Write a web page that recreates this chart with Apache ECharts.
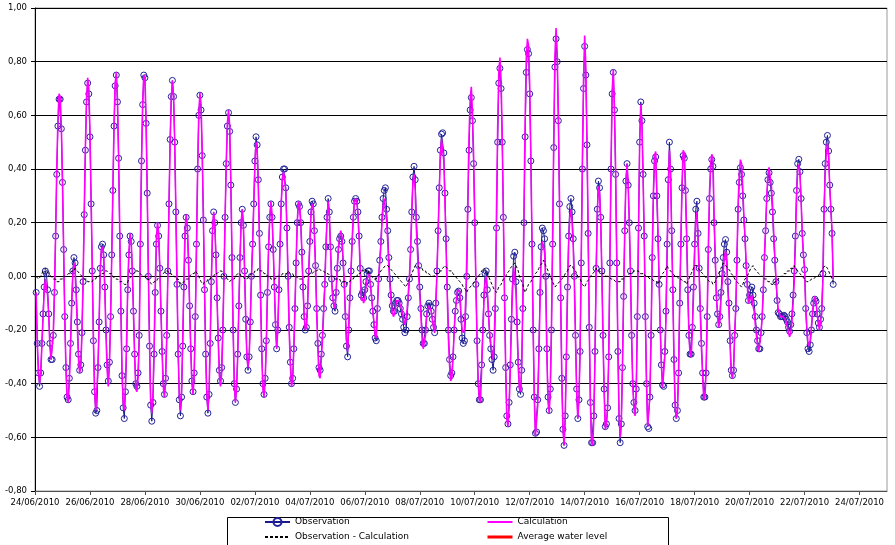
<!DOCTYPE html>
<html>
<head>
<meta charset="utf-8">
<script src="https://cdn.jsdelivr.net/npm/echarts@6/dist/echarts.min.js"></script>
<style>
html,body{margin:0;padding:0;background:#fff;}
#chart{width:895px;height:545px;}
</style>
</head>
<body>
<div id="chart"></div>
<script>
// ---- DATA ----
// hourly observations, first value at 24/06/2010 01:00 (hour 1)
const obsStartHour = 1;
const observation = [
-0.06,-0.25,-0.36,-0.41,-0.36,-0.25,-0.14,-0.04,0.02,0.01,-0.05,-0.14,
-0.25,-0.31,-0.31,-0.22,-0.06,0.15,0.38,0.56,0.66,0.66,0.55,0.35,
0.10,-0.15,-0.34,-0.45,-0.46,-0.38,-0.25,-0.10,0.02,0.07,0.05,-0.05,
-0.17,-0.29,-0.35,-0.33,-0.21,-0.02,0.23,0.47,0.65,0.72,0.68,0.52,
0.27,0.02,-0.24,-0.43,-0.51,-0.50,-0.34,-0.17,0.03,0.11,0.12,0.08,
-0.04,-0.20,-0.33,-0.39,-0.32,-0.15,0.08,0.32,0.56,0.71,0.75,0.65,
0.44,0.15,-0.13,-0.37,-0.49,-0.53,-0.43,-0.27,-0.05,0.08,0.15,0.13,
0.02,-0.13,-0.29,-0.40,-0.41,-0.36,-0.22,0.12,0.43,0.64,0.75,0.74,
0.57,0.31,0.00,-0.26,-0.48,-0.54,-0.47,-0.29,-0.06,0.12,0.19,0.15,
0.03,-0.13,-0.28,-0.40,-0.44,-0.38,-0.22,0.02,0.27,0.51,0.67,0.73,
0.67,0.50,0.24,-0.03,-0.29,-0.46,-0.52,-0.45,-0.26,-0.04,0.15,0.22,
0.18,0.06,-0.11,-0.27,-0.39,-0.43,-0.36,-0.15,0.12,0.40,0.60,0.675,
0.62,0.45,0.21,-0.05,-0.29,-0.45,-0.51,-0.44,-0.25,-0.02,0.17,0.24,
0.20,0.08,-0.08,-0.23,-0.35,-0.39,-0.34,-0.20,0.00,0.22,0.42,0.56,
0.61,0.54,0.34,0.07,-0.20,-0.40,-0.47,-0.42,-0.29,-0.11,0.07,0.20,
0.25,0.19,0.02,-0.16,-0.30,-0.35,-0.30,-0.17,0.00,0.12,0.27,0.43,
0.52,0.49,0.36,0.16,-0.07,-0.27,-0.40,-0.44,-0.38,-0.24,-0.06,0.11,
0.22,0.27,0.22,0.10,-0.04,-0.18,-0.27,-0.20,-0.05,0.12,0.27,0.37,
0.40,0.40,0.33,0.18,0.00,-0.19,-0.32,-0.40,-0.38,-0.27,-0.12,0.05,
0.20,0.27,0.26,0.20,0.09,-0.04,-0.15,-0.20,-0.19,-0.11,0.02,0.13,
0.24,0.28,0.27,0.17,0.04,-0.12,-0.25,-0.34,-0.35,-0.29,-0.22,-0.12,
-0.03,0.11,0.22,0.29,0.24,0.11,-0.01,-0.08,-0.11,-0.13,-0.06,0.03,
0.10,0.14,0.15,0.13,0.05,-0.03,-0.15,-0.26,-0.30,-0.20,-0.08,0.02,
0.13,0.22,0.28,0.29,0.28,0.24,0.15,0.03,-0.07,-0.06,-0.08,-0.05,
-0.02,0.01,0.02,0.02,-0.03,-0.08,-0.13,-0.18,-0.23,-0.24,-0.12,-0.01,
0.06,0.13,0.22,0.29,0.32,0.33,0.25,0.17,0.07,-0.01,-0.07,-0.11,
-0.13,-0.13,-0.10,-0.09,-0.09,-0.10,-0.12,-0.14,-0.16,-0.19,-0.21,-0.20,
-0.15,-0.08,-0.01,0.10,0.24,0.37,0.41,0.36,0.22,0.13,0.04,-0.04,
-0.12,-0.20,-0.25,-0.25,-0.20,-0.14,-0.11,-0.10,-0.11,-0.13,-0.16,-0.19,
-0.21,-0.10,0.02,0.17,0.33,0.47,0.53,0.535,0.46,0.31,0.14,-0.04,
-0.20,-0.31,-0.37,-0.36,-0.30,-0.20,-0.13,-0.09,-0.06,-0.055,-0.08,-0.16,
-0.23,-0.25,-0.24,-0.15,0.00,0.25,0.47,0.62,0.666,0.58,0.42,0.20,
-0.03,-0.24,-0.40,-0.46,-0.46,-0.33,-0.20,-0.07,0.01,0.02,-0.05,-0.14,
-0.22,-0.27,-0.31,-0.35,-0.30,-0.12,0.18,0.50,0.72,0.775,0.70,0.50,
0.22,-0.08,-0.34,-0.52,-0.55,-0.47,-0.33,-0.16,-0.01,0.075,0.09,-0.02,
-0.17,-0.32,-0.42,-0.44,-0.35,-0.12,0.20,0.52,0.76,0.845,0.83,0.68,
0.43,0.12,-0.20,-0.45,-0.585,-0.58,-0.46,-0.27,-0.06,0.11,0.18,0.17,
0.14,0.00,-0.27,-0.45,-0.50,-0.42,-0.20,0.12,0.48,0.78,0.885,0.80,
0.58,0.27,-0.08,-0.38,-0.57,-0.63,-0.52,-0.30,-0.04,0.15,0.26,0.29,
0.24,0.14,0.00,-0.22,-0.42,-0.53,-0.46,-0.28,0.05,0.40,0.70,0.857,
0.75,0.49,0.16,-0.19,-0.47,-0.62,-0.62,-0.52,-0.28,0.03,0.25,0.355,
0.33,0.22,0.02,-0.22,-0.42,-0.56,-0.55,-0.49,-0.30,0.05,0.40,0.68,
0.76,0.62,0.38,0.05,-0.28,-0.53,-0.62,-0.55,-0.34,-0.075,0.17,0.355,
0.42,0.34,0.20,0.02,-0.22,-0.40,-0.47,-0.50,-0.42,-0.15,0.18,0.50,
0.65,0.58,0.38,0.15,-0.15,-0.40,-0.56,-0.567,-0.45,-0.22,0.07,0.30,
0.43,0.445,0.30,0.14,-0.03,-0.20,-0.33,-0.405,-0.41,-0.28,-0.13,0.12,
0.36,0.50,0.40,0.17,-0.05,-0.31,-0.48,-0.53,-0.50,-0.36,-0.10,0.12,
0.33,0.45,0.44,0.32,0.14,-0.05,-0.22,-0.29,-0.29,-0.19,-0.04,0.12,
0.25,0.28,0.16,0.03,-0.12,-0.25,-0.36,-0.45,-0.45,-0.36,-0.15,0.10,
0.29,0.40,0.435,0.41,0.20,0.06,-0.08,-0.14,-0.18,-0.15,-0.06,0.01,
0.07,0.12,0.137,0.09,-0.02,-0.10,-0.24,-0.35,-0.37,-0.35,-0.22,-0.12,
0.06,0.25,0.35,0.405,0.38,0.30,0.21,0.14,0.04,-0.03,-0.09,-0.07,
-0.05,-0.04,-0.07,-0.10,-0.15,-0.20,-0.24,-0.27,-0.27,-0.21,-0.15,-0.05,
0.07,0.17,0.29,0.36,0.386,0.35,0.31,0.24,0.14,0.06,-0.02,-0.09,
-0.135,-0.14,-0.15,-0.15,-0.15,-0.145,-0.15,-0.16,-0.17,-0.19,-0.205,-0.18,
-0.14,-0.07,0.02,0.15,0.32,0.42,0.436,0.39,0.29,0.16,0.08,0.025,
-0.12,-0.21,-0.27,-0.28,-0.255,-0.20,-0.14,-0.10,-0.085,-0.093,-0.14,-0.174,
-0.19,-0.16,-0.12,0.01,0.25,0.42,0.50,0.525,0.467,0.34,0.25,0.16,
-0.03
];
// hourly "Observation - Calculation" (same hours as observation)
const obsMinusCalc = [
0.00,0.00,-0.01,-0.01,0.00,0.01,0.02,0.02,0.03,0.02,0.02,0.01,
0.01,0.00,0.00,-0.01,-0.01,-0.01,-0.02,-0.02,-0.02,-0.01,-0.01,-0.01,
0.00,0.00,0.00,0.00,0.01,0.01,0.01,0.02,0.02,0.02,0.03,0.03,
0.02,0.02,0.01,0.01,0.00,0.00,-0.01,-0.01,-0.01,-0.02,-0.02,-0.02,
-0.02,-0.02,-0.01,-0.01,-0.01,0.00,0.00,0.00,0.00,0.01,0.01,0.01,
0.02,0.02,0.02,0.02,0.01,0.01,0.01,0.00,0.00,-0.01,-0.01,-0.01,
-0.01,-0.02,-0.02,-0.02,-0.02,-0.03,-0.03,-0.03,-0.02,-0.01,-0.01,0.00,
0.00,0.01,0.01,0.02,0.02,0.02,0.02,0.01,0.01,0.00,0.00,0.00,
-0.01,-0.01,-0.01,-0.02,-0.02,-0.03,-0.03,-0.02,-0.02,-0.02,-0.01,-0.01,
0.00,0.00,0.00,0.01,0.01,0.02,0.02,0.02,0.01,0.01,0.01,0.00,
0.00,0.00,-0.01,-0.01,-0.01,-0.02,-0.02,-0.03,-0.03,-0.02,-0.02,-0.01,
-0.01,-0.01,0.00,0.00,0.01,0.01,0.01,0.02,0.02,0.01,0.00,-0.01,
-0.02,-0.02,-0.03,-0.02,-0.02,-0.02,-0.01,-0.01,-0.01,0.00,0.00,0.00,
0.01,0.01,0.01,0.01,0.02,0.02,0.02,0.01,0.01,0.00,0.00,-0.01,
-0.01,-0.02,-0.02,-0.01,-0.01,-0.01,0.00,0.00,0.01,0.01,0.01,0.00,
0.00,0.00,-0.01,-0.01,-0.01,-0.01,0.00,0.00,0.01,0.01,0.01,0.02,
0.02,0.02,0.03,0.03,0.02,0.02,0.02,0.01,0.01,0.01,0.00,0.00,
0.00,-0.01,-0.01,-0.01,-0.01,-0.01,0.00,0.00,0.00,0.00,0.00,0.01,
0.01,0.01,0.01,0.01,0.02,0.02,0.01,0.01,0.01,0.00,0.00,0.00,
0.00,-0.01,-0.01,-0.01,-0.01,-0.01,-0.01,0.00,0.00,0.00,0.00,0.01,
0.01,0.01,0.01,0.02,0.02,0.02,0.02,0.03,0.03,0.02,0.02,0.02,
0.02,0.01,0.01,0.01,0.01,0.00,0.00,0.00,0.00,-0.01,-0.01,-0.01,
-0.01,-0.01,-0.02,-0.02,-0.02,-0.02,-0.02,-0.03,-0.02,-0.02,-0.02,-0.01,
-0.01,-0.01,0.00,0.00,0.00,0.01,0.01,0.01,0.02,0.02,0.02,0.03,
0.02,0.02,0.02,0.01,0.01,0.00,0.00,-0.01,-0.01,-0.01,0.00,0.00,
0.01,0.02,0.02,0.03,0.03,0.04,0.04,0.04,0.04,0.03,0.03,0.02,
0.02,0.01,0.01,0.00,0.00,-0.01,-0.01,-0.02,-0.02,-0.03,-0.03,-0.04,
-0.03,-0.02,-0.01,0.00,0.01,0.02,0.03,0.04,0.04,0.04,0.04,0.03,
0.03,0.03,0.02,0.02,0.02,0.01,0.01,0.01,0.01,0.00,0.00,0.00,
0.00,0.01,0.01,0.01,0.02,0.02,0.02,0.03,0.03,0.04,0.04,0.03,
0.03,0.02,0.02,0.02,0.01,0.01,0.00,0.00,-0.01,-0.01,-0.02,-0.02,
-0.03,-0.04,-0.04,-0.05,-0.06,-0.05,-0.05,-0.04,-0.04,-0.03,-0.03,-0.02,
-0.01,-0.01,0.00,0.00,0.01,0.02,0.02,0.03,0.03,0.02,0.01,0.00,
-0.01,-0.02,-0.03,-0.04,-0.05,-0.05,-0.06,-0.05,-0.04,-0.04,-0.03,-0.02,
-0.01,-0.01,0.00,0.01,0.01,0.02,0.03,0.03,0.04,0.04,0.05,0.04,
0.03,0.02,0.00,-0.01,-0.02,-0.03,-0.05,-0.06,-0.05,-0.04,-0.03,-0.03,
-0.02,-0.01,-0.01,0.00,0.01,0.01,0.02,0.03,0.04,0.04,0.05,0.06,
0.05,0.04,0.03,0.02,0.01,0.00,-0.01,-0.02,-0.03,-0.04,-0.04,-0.03,
-0.03,-0.02,-0.02,-0.01,-0.01,0.00,0.01,0.01,0.02,0.03,0.04,0.04,
0.04,0.03,0.03,0.02,0.01,0.00,0.00,-0.01,-0.02,-0.03,-0.03,-0.04,
-0.03,-0.02,-0.02,-0.01,0.00,0.00,0.01,0.01,0.02,0.03,0.02,0.02,
0.02,0.02,0.01,0.01,0.01,0.01,0.00,0.00,0.00,0.00,-0.01,-0.01,
-0.01,-0.01,-0.02,-0.02,-0.02,-0.02,-0.02,-0.01,-0.01,-0.01,0.00,0.00,
0.00,0.00,0.01,0.01,0.01,0.01,0.02,0.02,0.02,0.02,0.02,0.01,
0.01,0.01,0.01,0.01,0.00,0.00,0.00,0.00,-0.01,-0.01,-0.01,-0.01,
-0.02,-0.02,-0.02,-0.03,-0.02,-0.01,0.00,0.01,0.01,0.02,0.03,0.04,
0.03,0.03,0.02,0.02,0.01,0.01,0.00,0.00,0.00,-0.01,-0.01,-0.01,
-0.01,-0.02,-0.02,-0.02,-0.03,-0.02,-0.01,0.00,0.01,0.02,0.03,0.04,
0.04,0.04,0.03,0.03,0.02,0.02,0.01,0.01,0.00,0.00,-0.01,-0.01,
-0.02,-0.02,-0.02,-0.03,-0.03,-0.02,-0.01,0.00,0.01,0.02,0.03,0.04,
0.05,0.05,0.04,0.04,0.03,0.03,0.02,0.01,0.01,0.00,-0.01,-0.01,
-0.02,-0.02,-0.03,-0.03,-0.04,-0.03,-0.02,-0.01,-0.01,0.00,0.01,0.02,
0.03,0.03,0.04,0.03,0.03,0.02,0.02,0.01,0.01,0.00,0.00,0.00,
-0.01,-0.01,-0.01,-0.02,-0.02,-0.02,-0.03,-0.03,-0.03,-0.02,-0.02,-0.02,
-0.01,-0.01,0.00,0.00,0.00,0.01,0.01,0.01,0.02,0.02,0.02,0.03,
0.03,0.03,0.04,0.03,0.03,0.02,0.02,0.01,0.01,0.00,0.00,-0.01,
-0.01,-0.02,-0.02,-0.02,-0.02,-0.01,-0.01,-0.01,-0.01,0.00,0.00,0.00,
0.01,0.01,0.02,0.03,0.03,0.04,0.04,0.03,0.02,0.01,0.00,-0.01,
-0.02
];
const averageWaterLevel = []; // listed in legend, no visible line
const xTickHours = [0,48,96,144,192,240,288,336,384,432,480,528,576,624,672,720];
const xTickLabels = ['24/06/2010','26/06/2010','28/06/2010','30/06/2010','02/07/2010','04/07/2010',
  '06/07/2010','08/07/2010','10/07/2010','12/07/2010','14/07/2010','16/07/2010','18/07/2010',
  '20/07/2010','22/07/2010','24/07/2010'];
const seriesNames = ['Observation','Calculation','Observation - Calculation','Average water level'];

// ---- BUILD ----
const obsData = observation.map((v,i)=>[obsStartHour+i, v]);
const n = Math.min(observation.length, obsMinusCalc.length);
const calcData = [], diffData = [];
for (let i=0;i<n;i++){
  calcData.push([obsStartHour+i, +(observation[i]-obsMinusCalc[i]).toFixed(3)]);
  diffData.push([obsStartHour+i, obsMinusCalc[i]]);
}
const FONT = 'DejaVu Sans';
const legendText = {color:'#000',fontFamily:FONT,fontSize:9,lineHeight:12};
const noMarker = {opacity:0};
const chart = echarts.init(document.getElementById('chart'), null, {renderer:'canvas'});
chart.setOption({
  animation:false,
  backgroundColor:'#ffffff',
  grid:{left:35,right:8,top:8,bottom:54,show:true,borderColor:'#9a9a9a',borderWidth:1,backgroundColor:'transparent'},
  xAxis:{
    type:'value',min:0,max:744,interval:48,
    axisLine:{show:true,onZero:false,lineStyle:{color:'#505050',width:1}},
    axisTick:{show:true,length:4,customValues:xTickHours,lineStyle:{color:'#505050'}},
    axisLabel:{customValues:xTickHours,margin:7,color:'#000',fontFamily:FONT,fontSize:8.5,
      formatter:function(v){const k=xTickHours.indexOf(Math.round(v));return k>=0?xTickLabels[k]:'';}},
    splitLine:{show:false}
  },
  yAxis:{
    type:'value',min:-0.8,max:1.0,interval:0.2,
    axisLine:{show:true,onZero:false,lineStyle:{color:'#000',width:1}},
    axisTick:{show:true,length:4,lineStyle:{color:'#000'}},
    axisLabel:{margin:8,color:'#000',fontFamily:FONT,fontSize:8.5,
      formatter:function(v){if(Math.abs(v)<1e-9)v=0;return v.toFixed(2).replace('.',',');}},
    splitLine:{show:true,lineStyle:{color:'#000',width:1}}
  },
  legend:[
    {data:[{name:seriesNames[0]},{name:seriesNames[2],itemStyle:noMarker}],
     orient:'vertical',left:264,top:516,height:29,itemWidth:25,itemHeight:10,itemGap:3,
     textStyle:legendText,selectedMode:false,padding:0},
    {data:[{name:seriesNames[1],itemStyle:noMarker,lineStyle:{width:2}},
           {name:seriesNames[3],itemStyle:noMarker,lineStyle:{width:3}}],
     orient:'vertical',left:486,top:516,height:29,itemWidth:25,itemHeight:10,itemGap:3,
     textStyle:legendText,selectedMode:false,padding:0}
  ],
  graphic:[{type:'rect',left:225,top:515,shape:{width:441,height:40},
    style:{fill:'none',stroke:'#000',lineWidth:1},z:-1}],
  series:[
    {name:seriesNames[0],type:'line',data:obsData,z:2,showAllSymbol:true,symbol:'circle',symbolSize:6,
     lineStyle:{color:'#1a1a8c',width:1},
     itemStyle:{color:'rgba(255,255,255,0)',borderColor:'#22229a',borderWidth:1}},
    {name:seriesNames[1],type:'line',data:calcData,z:3,symbol:'none',
     lineStyle:{color:'#ff00ff',width:1.6},itemStyle:{color:'#ff00ff'}},
    {name:seriesNames[2],type:'line',data:diffData,z:4,symbol:'none',
     lineStyle:{color:'#000',width:1,type:[3,2]},itemStyle:{color:'#000'}},
    {name:seriesNames[3],type:'line',data:averageWaterLevel,z:5,symbol:'none',
     lineStyle:{color:'#ff0000',width:3},itemStyle:{color:'#ff0000'}}
  ]
});
</script>
</body>
</html>
